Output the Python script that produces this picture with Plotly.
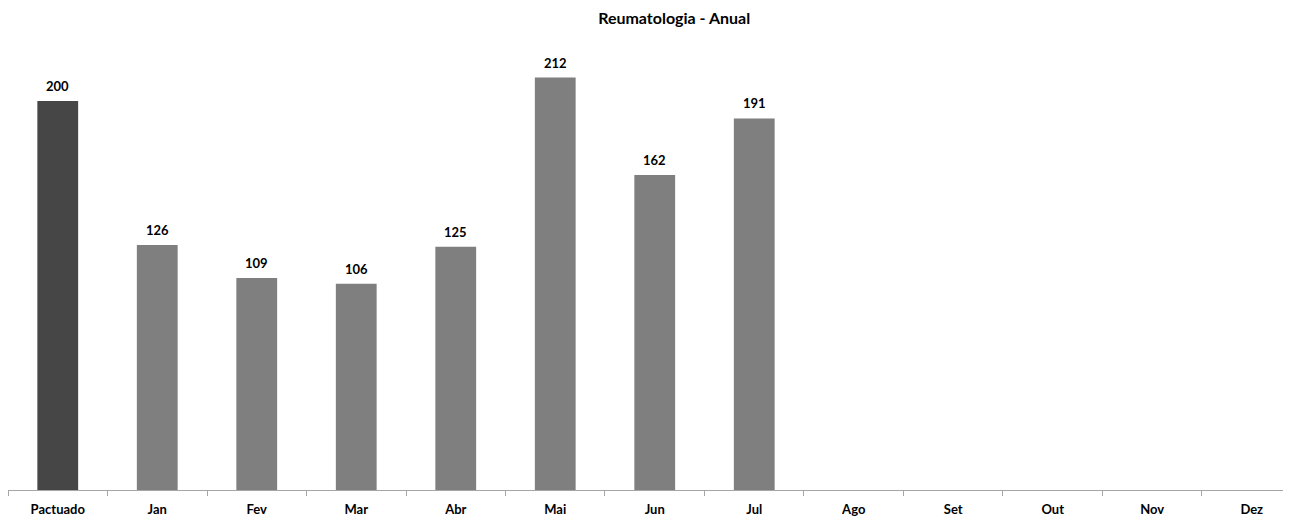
import plotly.graph_objects as go

categories = ["Pactuado", "Jan", "Fev", "Mar", "Abr", "Mai", "Jun", "Jul", "Ago", "Set", "Out", "Nov", "Dez"]
values = [200, 126, 109, 106, 125, 212, 162, 191, None, None, None, None, None]
title_text = "Reumatologia - Anual"

colors = ["#464646"] + ["#7f7f7f"] * (len(categories) - 1)

fig = go.Figure(go.Bar(
    x=categories, y=values, marker=dict(color=colors, line=dict(width=0)),
    width=0.41, cliponaxis=False, hoverinfo="x+y",
))

for c, v in zip(categories, values):
    if v is None:
        continue
    fig.add_annotation(x=c, y=v, text="<b>%d</b>" % v, showarrow=False,
                       yanchor="bottom", yshift=5,
                       font=dict(family="Lato", size=13, color="#000000"))

fig.update_layout(
    width=1291, height=517,
    margin=dict(l=0, r=0, t=42, b=35),
    paper_bgcolor="white", plot_bgcolor="white",
    title=dict(text="<b>" + title_text + "</b>", x=0.516, xanchor="center", y=0.980, yanchor="middle",
               font=dict(family="Lato", size=16, color="#000000")),
    showlegend=False,
    xaxis=dict(range=[-0.5, 12.475], showline=True, linecolor="#a6a6a6", linewidth=1,
               ticks="outside", tickson="boundaries", ticklen=5, tickcolor="#a6a6a6",
               tickfont=dict(family="Lato", size=13, color="#000000"), ticklabelstandoff=7,
               tickprefix="<b>", ticksuffix="</b>", showgrid=False, fixedrange=True),
    yaxis=dict(range=[0, 226.2], visible=False, showgrid=False, zeroline=False),
)

fig.write_html("out.html")
